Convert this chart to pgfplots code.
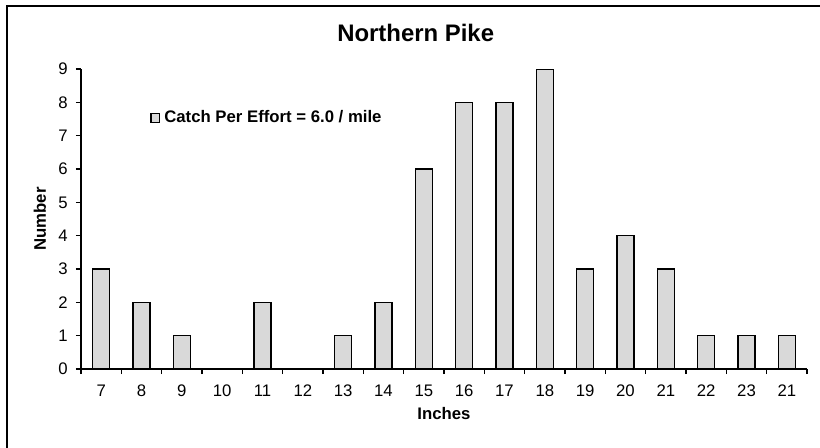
\documentclass[border=0pt]{standalone}
\usepackage{fontspec}
\setmainfont{Liberation Sans}
\usepackage{pgfplots}
\pgfplotsset{compat=1.18}

\definecolor{barfill}{HTML}{D9D9D9}

\begin{document}
\begin{tikzpicture}
\useasboundingbox (0,0) rectangle (410bp,224bp);
% chart frame (only left and top edges visible)
\draw[line width=1.1bp, black] (3.5bp,0) -- (3.5bp,221bp) -- (410bp,221bp);
\begin{axis}[
    at={(40.5bp,39.5bp)}, anchor=south west,
    scale only axis,
    width=363bp, height=150bp,
    xmin=-0.5, xmax=17.5,
    ymin=0, ymax=9,
    axis lines*=left,
    axis line style={line width=0.8bp},
    tick style={line width=0.7bp, black},
    tick align=outside,
    major tick length=2.6bp,
    minor tick length=2.6bp,
    xtick={0,...,17},
    xticklabels={7,8,9,10,11,12,13,14,15,16,17,18,19,20,21,22,23,21},
    x tick style={draw=none},
    minor xtick={-0.5,0.5,...,17.5},
    minor x tick style={draw=black, line width=0.7bp},
    ytick={0,...,9},
    /pgf/number format/assume math mode=true,
    ticklabel style={font=\fontsize{8.4}{10}\selectfont},
    xticklabel style={yshift=-2bp},
    yticklabel style={xshift=-0.5bp},
    title={Northern Pike},
    title style={font=\bfseries\fontsize{12}{14}\selectfont, at={(0.461,1.08)}, anchor=center},
    xlabel={Inches},
    xlabel style={font=\bfseries\fontsize{8.4}{10}\selectfont, at={(axis description cs:0.5,-0.15)}, anchor=center},
    ylabel={Number},
    ylabel style={font=\bfseries\fontsize{8.4}{10}\selectfont, at={(axis description cs:-0.0565,0.5)}, anchor=center},
    ybar, bar width=8.6bp, bar shift=0pt,
    legend style={draw=none, fill=none, at={(0.095,0.837)}, anchor=west,
        font=\bfseries\fontsize{8.4}{10}\selectfont, inner sep=0pt,
        /tikz/every even column/.append style={column sep=1bp}},
    legend image code/.code={\draw[#1, line width=0.6bp] (0bp,-2.2bp) rectangle (4.4bp,2.2bp);},
]
\addplot[fill=barfill, draw=black, line width=0.7bp] coordinates {
    (0,3) (1,2) (2,1) (3,0) (4,2) (5,0) (6,1) (7,2) (8,6)
    (9,8) (10,8) (11,9) (12,3) (13,4) (14,3) (15,1) (16,1) (17,1)
};
\addlegendentry{Catch Per Effort = 6.0 / mile}
\end{axis}
\end{tikzpicture}
\end{document}
